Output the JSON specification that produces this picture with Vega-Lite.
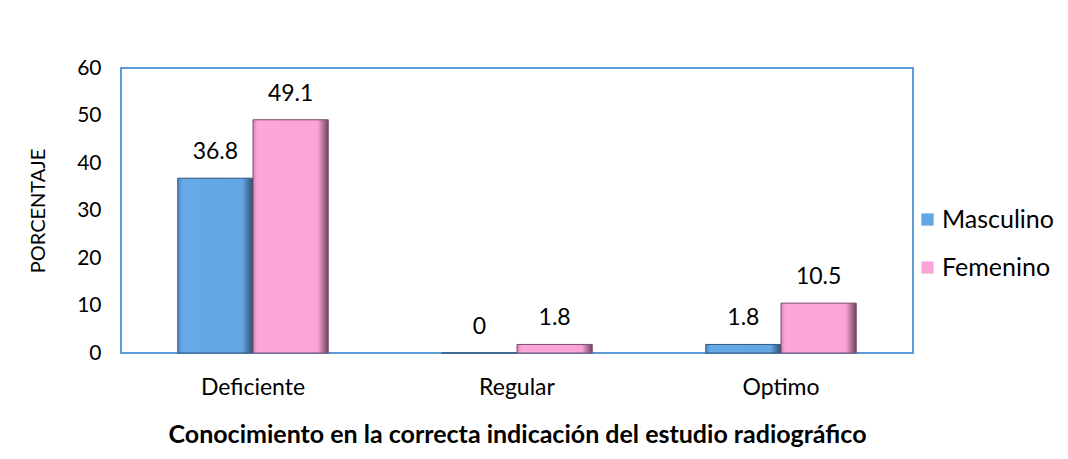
{
  "$schema": "https://vega.github.io/schema/vega-lite/v6.json",
  "autosize": {"type": "none"},
  "width": 792,
  "height": 285,
  "padding": {"left": 121, "top": 68, "right": 155, "bottom": 106},
  "background": "white",
  "config": {
    "font": "Lato",
    "view": {"stroke": "#5b9bd5", "strokeWidth": 2}
  },
  "data": {
    "values": [
      {"cat": "Deficiente", "sexo": "Masculino", "pct": 36.8},
      {"cat": "Deficiente", "sexo": "Femenino", "pct": 49.1},
      {"cat": "Regular", "sexo": "Masculino", "pct": 0},
      {"cat": "Regular", "sexo": "Femenino", "pct": 1.8},
      {"cat": "Optimo", "sexo": "Masculino", "pct": 1.8},
      {"cat": "Optimo", "sexo": "Femenino", "pct": 10.5}
    ]
  },
  "encoding": {
    "x": {
      "field": "cat", "type": "nominal", "sort": ["Deficiente", "Regular", "Optimo"],
      "scale": {"paddingInner": 0.43, "paddingOuter": 0.215},
      "axis": {
        "title": "Conocimiento en la correcta indicación del estudio radiográfico",
        "titleFontSize": 25, "titleFontWeight": "bold", "titleColor": "black", "titlePadding": 23,
        "labelFontSize": 23, "labelColor": "black", "labelAngle": 0, "labelPadding": 23,
        "domain": false, "ticks": false
      }
    },
    "xOffset": {"field": "sexo", "type": "nominal", "sort": ["Masculino", "Femenino"]},
    "y": {
      "field": "pct", "type": "quantitative",
      "scale": {"domain": [0, 60]},
      "axis": {
        "title": "PORCENTAJE", "titleFontSize": 20, "titleFontWeight": "normal", "titleColor": "black", "titlePadding": 28,
        "values": [0, 10, 20, 30, 40, 50, 60],
        "labelFontSize": 21, "labelColor": "black", "labelPadding": 20,
        "grid": false, "domain": false, "ticks": false
      }
    }
  },
  "layer": [
    {
      "mark": {"type": "bar"},
      "encoding": {
        "color": {
          "field": "sexo", "type": "nominal",
          "scale": {"domain": ["Masculino", "Femenino"], "range": ["#62a6e3", "#fca3d8"]},
          "legend": {
            "title": null, "orient": "none", "legendX": 794, "legendY": 139,
            "symbolType": "square", "symbolSize": 150, "symbolStrokeWidth": 0,
            "labelFontSize": 25, "labelColor": "black", "rowPadding": 22, "labelOffset": 2
          }
        }
      }
    },
    {
      "transform": [{"filter": "datum.sexo == 'Masculino'"}],
      "mark": {
        "type": "bar",
        "fill": {"gradient": "linear", "x1": 0, "y1": 0, "x2": 1, "y2": 0,
          "stops": [{"offset": 0, "color": "#4f88bf"}, {"offset": 0.06, "color": "#66a9e6"}, {"offset": 0.86, "color": "#62a6e3"}, {"offset": 1, "color": "#2d4d6e"}]},
        "stroke": "#34597f", "strokeWidth": 1
      }
    },
    {
      "transform": [{"filter": "datum.sexo == 'Femenino'"}],
      "mark": {
        "type": "bar",
        "fill": {"gradient": "linear", "x1": 0, "y1": 0, "x2": 1, "y2": 0,
          "stops": [{"offset": 0, "color": "#d983b4"}, {"offset": 0.06, "color": "#fda6da"}, {"offset": 0.86, "color": "#fca3d8"}, {"offset": 1, "color": "#6e4560"}]},
        "stroke": "#7a4d6a", "strokeWidth": 1
      }
    },
    {
      "mark": {"type": "text", "dy": -14, "fontSize": 23, "color": "black", "baseline": "bottom"},
      "encoding": {
        "text": {"field": "pct", "type": "quantitative", "format": ".1~f"}
      }
    }
  ]
}
